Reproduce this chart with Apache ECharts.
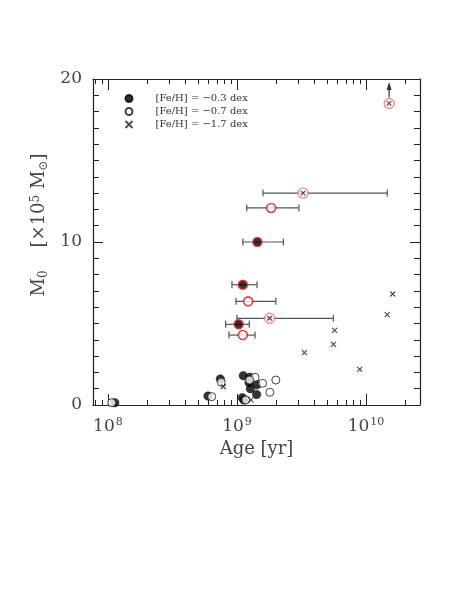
<!DOCTYPE html>
<html><head><meta charset="utf-8">
<script src="https://cdn.jsdelivr.net/npm/echarts@6/dist/echarts.min.js"></script>
<style>html,body{margin:0;padding:0;background:#fff}#c{width:458px;height:592px}</style>
</head><body><div id="c"></div>
<script>
// ---- data ----
const X_MIN = 7.66e7, X_MAX = 2.62e10;
const Y_MIN = 0, Y_MAX = 20;
const xMajorTicks = [1e8, 1e9, 1e10];
const xMinorTicks = [8e7, 9e7, 2e8, 3e8, 4e8, 5e8, 6e8, 7e8, 8e8, 9e8,
  2e9, 3e9, 4e9, 5e9, 6e9, 7e9, 8e9, 9e9, 2e10];
const legendNames = ['[Fe/H] = \u22120.3 dex', '[Fe/H] = \u22120.7 dex', '[Fe/H] = \u22121.7 dex'];

// [Fe/H] = -0.3 (filled)
const metalRichAge  = [1.13e8, 5.96e8, 7.43e8, 1.12e9, 1.10e9, 1.13e9, 1.26e9, 1.24e9, 1.27e9, 1.43e9, 1.42e9];
const metalRichMass = [0.14,   0.55,   1.60,   1.80,   0.45,   0.31,   1.70,   1.37,   1.00,   1.25,   0.65];
// [Fe/H] = -0.7 (open)
const metalMidAge  = [1.07e8, 6.37e8, 7.55e8, 1.38e9, 1.25e9, 1.58e9, 2.00e9, 1.80e9, 1.17e9];
const metalMidMass = [0.14,   0.51,   1.39,   1.70,   1.53,   1.33,   1.53,   0.78,   0.31];
// [Fe/H] = -1.7 (crosses)
const metalPoorAge  = [1.61e10, 1.46e10, 5.71e9, 5.59e9, 3.33e9, 8.93e9, 7.84e8, 1.28e9];
const metalPoorMass = [6.81,    5.54,    4.58,   3.72,   3.21,   2.19,   1.12,   0.31];

// highlighted (red) clusters with age error bars
const redFilledAge  = [1.44e9, 1.11e9, 1.03e9];
const redFilledMass = [10.0,   7.38,   4.95];
const redFilledLo   = [1.11e9, 9.14e8, 8.17e8];
const redFilledHi   = [2.29e9, 1.43e9, 1.245e9];

const redOpenAge  = [1.84e9, 1.22e9, 1.11e9];
const redOpenMass = [12.09,  6.36,   4.29];
const redOpenLo   = [1.19e9, 9.82e8, 8.67e8];
const redOpenHi   = [3.02e9, 2.00e9, 1.38e9];

const redCrossAge  = [3.25e9, 1.79e9];
const redCrossMass = [13.0,   5.32];
const redCrossLo   = [1.59e9, 1.00e9];
const redCrossHi   = [1.46e10, 5.58e9];

// lower limit (arrow)
const limitAge  = [1.51e10];
const limitMass = [18.5];

// ---- build ----
const zip = (a, b) => a.map((v, i) => [v, b[i]]);
const errData = [].concat(
  redFilledAge.map((v, i) => [redFilledLo[i], redFilledHi[i], redFilledMass[i]]),
  redOpenAge.map((v, i) => [redOpenLo[i], redOpenHi[i], redOpenMass[i]]),
  redCrossAge.map((v, i) => [redCrossLo[i], redCrossHi[i], redCrossMass[i]])
);
const crossPath = 'path://M0,0L10,10M10,0L0,10';
const serif = 'DejaVu Serif';
const axisColor = '#222';
const textColor = '#444';

const chart = echarts.init(document.getElementById('c'), null, {renderer: 'canvas'});
const gridRef = {left: 93, right: 38, top: 79, bottom: 187};

chart.setOption({
  animation: false,
  backgroundColor: '#fff',
  grid: gridRef,
  legend: {
    show: true, orient: 'vertical', left: 118, top: 87,
    itemWidth: 23, itemHeight: 7, itemGap: 0, selectedMode: false,
    data: legendNames,
    textStyle: {fontFamily: serif, fontSize: 10, color: '#333', lineHeight: 13, padding: [0, 0, 0, 10]}
  },
  xAxis: [
    {
      type: 'log', logBase: 10, min: X_MIN, max: X_MAX, position: 'bottom', gridIndex: 0,
      axisLine: {show: true, lineStyle: {color: axisColor, width: 1.2}},
      axisTick: {show: true, inside: true, length: 11, lineStyle: {color: axisColor, width: 1}},
      splitLine: {show: false},
      axisLabel: {
        show: true, margin: 12, showMinLabel: false, showMaxLabel: false,
        fontFamily: serif, fontSize: 17, color: textColor,
        formatter: v => xMajorTicks.some(t => Math.abs(Math.log10(v) - Math.log10(t)) < 1e-6)
          ? '10{s|' + Math.round(Math.log10(v)) + '}' : '',
        rich: {s: {fontFamily: serif, fontSize: 11, color: textColor, verticalAlign: 'top', padding: [0, 0, 8, 1]}}
      },
      name: 'Age [yr]', nameLocation: 'middle', nameGap: 32,
      nameTextStyle: {fontFamily: serif, fontSize: 18, color: textColor}
    },
    {
      type: 'value', min: Math.log10(X_MIN), max: Math.log10(X_MAX), position: 'bottom', gridIndex: 0,
      axisLine: {show: false}, splitLine: {show: false}, axisLabel: {show: false},
      axisTick: {show: true, inside: true, length: 5, customValues: xMinorTicks.map(Math.log10),
        lineStyle: {color: axisColor, width: 1}}
    },
    {
      type: 'log', logBase: 10, min: X_MIN, max: X_MAX, position: 'top', gridIndex: 0,
      axisLine: {show: true, lineStyle: {color: axisColor, width: 1.2}},
      axisTick: {show: true, inside: true, length: 11, lineStyle: {color: axisColor, width: 1}},
      splitLine: {show: false}, axisLabel: {show: false}
    },
    {
      type: 'value', min: Math.log10(X_MIN), max: Math.log10(X_MAX), position: 'top', gridIndex: 0,
      axisLine: {show: false}, splitLine: {show: false}, axisLabel: {show: false},
      axisTick: {show: true, inside: true, length: 5, customValues: xMinorTicks.map(Math.log10),
        lineStyle: {color: axisColor, width: 1}}
    }
  ],
  yAxis: [
    {
      type: 'value', min: Y_MIN, max: Y_MAX, interval: 10, position: 'left',
      axisLine: {show: true, lineStyle: {color: axisColor, width: 1.2}},
      axisTick: {show: true, inside: true, length: 10, lineStyle: {color: axisColor, width: 1}},
      minorTick: {show: true, splitNumber: 10, length: 6, lineStyle: {color: axisColor, width: 1}},
      splitLine: {show: false}, minorSplitLine: {show: false},
      axisLabel: {margin: 11, fontFamily: serif, fontSize: 17, color: textColor},
      name: 'M{sub|0}    [\u00d710{sup|5} M{sub|\u2299}]',
      nameLocation: 'middle', nameRotate: 90, nameGap: 34,
      nameTextStyle: {fontFamily: serif, fontSize: 18, color: textColor, padding: [0, 0, 0, 34],
        rich: {
          sub: {fontFamily: serif, fontSize: 12, color: textColor, verticalAlign: 'bottom', padding: [6, 0, 0, 0]},
          sup: {fontFamily: serif, fontSize: 12, color: textColor, verticalAlign: 'top', padding: [0, 0, 8, 0]}
        }}
    },
    {
      type: 'value', min: Y_MIN, max: Y_MAX, interval: 10, position: 'right',
      axisLine: {show: true, lineStyle: {color: axisColor, width: 1.2}},
      axisTick: {show: true, inside: true, length: 10, lineStyle: {color: axisColor, width: 1}},
      minorTick: {show: true, splitNumber: 10, length: 6, lineStyle: {color: axisColor, width: 1}},
      splitLine: {show: false}, axisLabel: {show: false}
    }
  ],
  series: [
    {
      type: 'custom', name: 'errbars', z: 1, xAxisIndex: 0, yAxisIndex: 0,
      data: errData, encode: {x: [0, 1], y: 2},
      renderItem: (params, api) => {
        const y = api.value(2);
        const lo = api.coord([api.value(0), y]);
        const hi = api.coord([api.value(1), y]);
        const h = 3.5;
        const st = {stroke: '#555', lineWidth: 1.2};
        return {type: 'group', children: [
          {type: 'line', shape: {x1: lo[0], y1: lo[1], x2: hi[0], y2: hi[1]}, style: st},
          {type: 'line', shape: {x1: lo[0], y1: lo[1] - h, x2: lo[0], y2: lo[1] + h}, style: st},
          {type: 'line', shape: {x1: hi[0], y1: hi[1] - h, x2: hi[0], y2: hi[1] + h}, style: st}
        ]};
      }
    },
    {
      type: 'custom', name: 'limit', z: 1,
      data: zip(limitAge, limitMass), encode: {x: 0, y: 1},
      renderItem: (params, api) => {
        const p0 = api.coord([api.value(0), api.value(1)]);
        const p1 = api.coord([api.value(0), Y_MAX]);
        const st = {stroke: '#444', lineWidth: 1.3};
        const top = p1[1] + 3;
        return {type: 'group', children: [
          {type: 'line', shape: {x1: p0[0], y1: p0[1] - 6, x2: p0[0], y2: top + 6}, style: st},
          {type: 'polygon', shape: {points: [[p0[0], top], [p0[0] - 2.5, top + 8], [p0[0] + 2.5, top + 8]]},
            style: {fill: '#333'}}
        ]};
      }
    },
    {
      type: 'scatter', name: legendNames[0], z: 3, symbol: 'circle', symbolSize: 8.5,
      itemStyle: {color: '#000', borderColor: '#000', borderWidth: 0.5},
      data: zip(metalRichAge, metalRichMass)
    },
    {
      type: 'scatter', name: legendNames[1], z: 3, symbol: 'circle', symbolSize: 8,
      itemStyle: {color: '#fff', borderColor: '#111', borderWidth: 1},
      data: zip(metalMidAge, metalMidMass)
    },
    {
      type: 'scatter', name: legendNames[2], z: 3, symbol: crossPath, symbolSize: 5,
      itemStyle: {color: 'none', borderColor: '#222', borderWidth: 1.2},
      data: zip(metalPoorAge, metalPoorMass)
    },
    {
      type: 'scatter', name: 'redFilled', z: 4, symbol: 'circle', symbolSize: 9,
      itemStyle: {color: '#000', borderColor: '#e02525', borderWidth: 1.6},
      data: zip(redFilledAge, redFilledMass)
    },
    {
      type: 'scatter', name: 'redOpen', z: 4, symbol: 'circle', symbolSize: 9,
      itemStyle: {color: '#fff', borderColor: '#cc1a1a', borderWidth: 1.6},
      data: zip(redOpenAge, redOpenMass)
    },
    {
      type: 'scatter', name: 'redCrossRing', z: 4, symbol: 'circle', symbolSize: 10,
      itemStyle: {color: '#fff', borderColor: '#f07070', borderWidth: 1.4},
      data: zip(redCrossAge.concat(limitAge), redCrossMass.concat(limitMass))
    },
    {
      type: 'scatter', name: 'redCrossX', z: 5, symbol: crossPath, symbolSize: 4.5,
      itemStyle: {color: 'none', borderColor: '#222', borderWidth: 1.2},
      data: zip(redCrossAge.concat(limitAge), redCrossMass.concat(limitMass))
    }
  ]
});
</script>
</body></html>
